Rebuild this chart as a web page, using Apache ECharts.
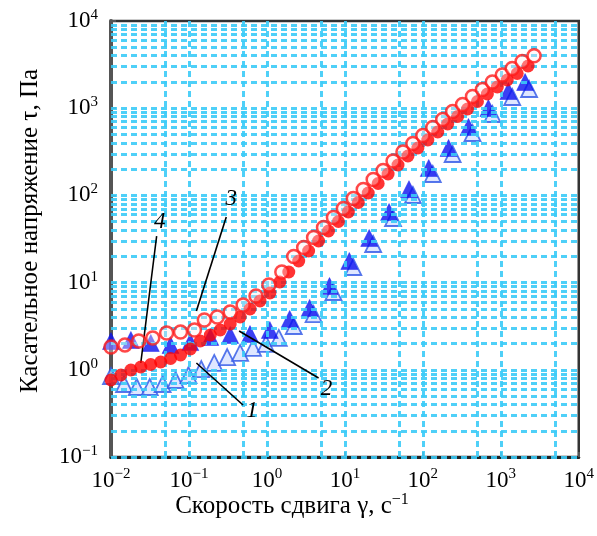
<!DOCTYPE html>
<html><head><meta charset="utf-8">
<script src="https://cdn.jsdelivr.net/npm/echarts@6/dist/echarts.min.js"></script>
<style>html,body{margin:0;padding:0;background:#fff}#c{width:597px;height:536px}</style>
</head><body><div id="c"></div><script>
// Curve 1: open blue triangles
const s1x = [0.01,0.0147,0.0214,0.0314,0.0459,0.0673,0.0986,0.144,0.211,0.309,0.453,0.663,0.971,1.42,2.208,3.969,7.137,12.83,23.07,41.49,74.59,134.1,241.2,433.6,779.5,1401,2307];
const s1y = [0.849,0.687,0.635,0.635,0.687,0.764,0.871,1.02,1.20,1.40,1.56,1.78,1.98,2.32,3.18,4.36,7.80,15.10,27.72,55.05,101.1,176.0,298.4,519.4,858.1,1344,1661];
// Curve 2: filled blue triangles
const s2x = [0.01,0.018,0.0324,0.058,0.104,0.188,0.338,0.607,1.09,1.96,3.53,6.35,11.4,20.5,36.9,66.4,119,214,385,693,1250,2050];
const s2y = [2.14,2.20,2.03,1.92,2.08,2.38,2.51,2.57,2.86,3.83,5.12,9.14,17.7,32.5,64.5,118,206,350,609,1005,1575,1998];
// Curve 3: open red circles
const s3x = [0.01,0.0151,0.0227,0.0343,0.0517,0.0780,0.1175,0.1575,0.231,0.338,0.495,0.724,1.060,1.553,2.208,2.960,3.969,5.322,7.137,9.570,12.83,17.21,23.07,30.94,41.49,55.63,74.59,100.0,134.1,179.9,241.2,323.3,433.6,581.4,779.5,1045,1401,1879,2672];
const s3y = [1.83,1.93,2.14,2.32,2.64,2.71,2.86,3.72,4.03,4.60,5.53,7.02,9.39,13.23,19.9,25.3,32.9,42.8,55.8,70.7,92.1,116.8,152.2,192.9,247.9,314.5,393.5,486.1,600.5,741.8,916.2,1102,1361,1638,1997,2401,2852,3430,3990];
// Curve 4: filled red circles
const s4x = [0.01,0.0134,0.0180,0.0241,0.0323,0.0434,0.0581,0.0780,0.1045,0.140,0.188,0.252,0.338,0.453,0.607,0.815,1.092,1.464,1.907,2.557,3.428,4.597,6.164,8.265,11.08,14.86,19.93,26.72,35.83,48.04,64.41,86.37,115.8,155.3,208.2,279.2,374.4,502,673,903,1210,1623,2240];
const s4y = [0.764,0.872,0.995,1.077,1.150,1.229,1.348,1.478,1.732,2.140,2.507,2.860,3.351,4.033,4.980,6.152,7.597,10.16,13.24,17.69,23.04,30.0,39.07,50.21,64.52,82.9,106.6,136.9,175.9,223.2,283.0,349.7,432.0,533.4,659.1,803.2,978.9,1193,1455,1750,2106,2500,3048];

// grid line values (ticks)
const yDecades = [-1,0,1,2,3];
const yMultipliers = [1,2,3,4,5,6,7,8,9];
const xDecades = [-1,0,1,2,3];
const xMultipliers = [1,5];
const xHalfFirst = 0.05;

// curve labels: text position and leader line ends (data coordinates)
const curveLabels = ['1','2','3','4'];
const labelPos = [[0.644,0.337],[5.81,0.602],[0.348,91.0],[0.0421,49.5]];
const leaderA = [[0.494,0.395],[4.60,0.805],[0.301,56.5],[0.0385,34.2]];
const leaderB = [[0.1246,1.197],[0.44,2.79],[0.1246,4.72],[0.0241,1.197]];

const FONT = '"Liberation Serif","Times New Roman",serif';
const zip = (a,b) => a.map((v,i)=>[v,b[i]]);

const gridLines = [];
yDecades.forEach(d => yMultipliers.forEach(m => gridLines.push({yAxis: m*Math.pow(10,d)})));
gridLines.push({xAxis: xHalfFirst});
xDecades.forEach(d => xMultipliers.forEach(m => gridLines.push({xAxis: m*Math.pow(10,d)})));

function supLabel(v){
  const e = Math.round(Math.log10(v));
  return '{b|10}{s|' + (e<0 ? '\u2212'+(-e) : e) + '}';
}
const rich = {
  b:{fontSize:23, fontFamily:FONT, color:'#000'},
  s:{fontSize:15, fontFamily:FONT, color:'#000', padding:[0,0,12,0]}
};

const chart = echarts.init(document.getElementById('c'), null, {renderer:'canvas'});
chart.setOption({
  animation:false,
  backgroundColor:'#fff',
  grid:{left:111, right:15, top:21, bottom:79, show:true, borderColor:'#333', borderWidth:2.5, containLabel:false},
  xAxis:{type:'log', logBase:10, min:0.01, max:10000, splitNumber:6,
    axisLine:{show:true, lineStyle:{color:'#222', width:3}},
    axisTick:{show:true, inside:true, length:5, lineStyle:{color:'#555', width:2}},
    minorTick:{show:false}, splitLine:{show:false},
    axisLabel:{formatter:supLabel, rich:rich, margin:10}},
  yAxis:{type:'log', logBase:10, min:0.1, max:10000, splitNumber:5,
    axisLine:{show:true, lineStyle:{color:'#555', width:4}},
    axisTick:{show:true, inside:true, length:5, lineStyle:{color:'#555', width:2}},
    splitLine:{show:false},
    axisLabel:{formatter:supLabel, rich:rich, margin:13}},
  graphic:[
    {type:'text', x:30, y:231, rotation:Math.PI/2,
      style:{text:'Касательное напряжение τ, Па', fontSize:25, fontFamily:FONT, fill:'#000', align:'center', verticalAlign:'middle'}},
    {type:'text', x:292, y:506,
      style:{text:'{a|Скорость сдвига γ, с}{s|\u22121}', align:'center', verticalAlign:'middle',
        rich:{a:{fontSize:25, fontFamily:FONT, fill:'#000'}, s:{fontSize:16, fontFamily:FONT, fill:'#000', padding:[0,0,12,0]}}}}
  ],
  series:[
    {type:'scatter', name:'grid', data:[], z:1, silent:true,
      markLine:{silent:true, symbol:['none','none'], label:{show:false},
        lineStyle:{color:'#3ccbf7', type:[6,4], width:3, opacity:0.9}, emphasis:{disabled:true},
        data:gridLines}},
    {type:'scatter', name:'1', data:zip(s1x,s1y), symbol:'triangle', symbolSize:16, z:3,
      itemStyle:{color:'rgba(210,222,255,0.9)', borderColor:'#2d55e6', borderWidth:1.8}},
    {type:'scatter', name:'2', data:zip(s2x,s2y), symbol:'triangle', symbolSize:17, z:4,
      itemStyle:{color:'#0a10f0', borderColor:'#0a10f0', borderWidth:0.5}},
    {type:'scatter', name:'4', data:zip(s4x,s4y), symbol:'circle', symbolSize:13, z:5,
      itemStyle:{color:'#ff0000'}},
    {type:'scatter', name:'3', data:zip(s3x,s3y), symbol:'circle', symbolSize:13, z:6,
      itemStyle:{color:'rgba(255,235,235,0.45)', borderColor:'#ff1a1a', borderWidth:2.5}},
    {type:'scatter', name:'labels', data:[], z:7, silent:true,
      markLine:{silent:true, symbol:['none','none'], label:{show:false},
        lineStyle:{color:'#000', type:'solid', width:1.6}, emphasis:{disabled:true},
        data: leaderA.map((a,i)=>[{coord:a},{coord:leaderB[i]}])},
      markPoint:{silent:true, symbol:'circle', symbolSize:1, itemStyle:{color:'rgba(0,0,0,0)'},
        label:{show:true, position:'inside', color:'#000', fontSize:23, fontStyle:'italic', fontFamily:FONT},
        data: labelPos.map((p,i)=>({coord:p, value:curveLabels[i], label:{formatter:curveLabels[i]}}))}}
  ]
});
</script></body></html>
